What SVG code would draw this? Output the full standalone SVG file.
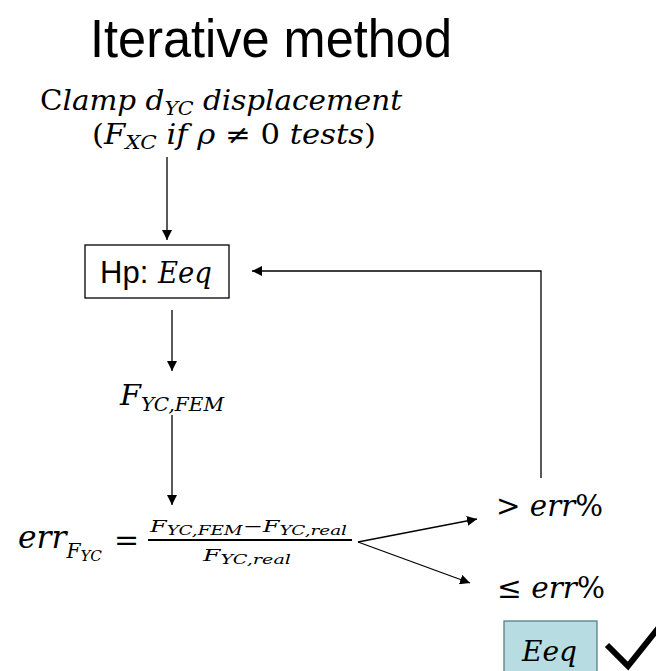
<svg xmlns="http://www.w3.org/2000/svg" width="656" height="671" viewBox="0 0 656 671">
<defs>
<marker id="ah" viewBox="0 0 10 10" refX="10" refY="5" markerWidth="10" markerHeight="10" markerUnits="userSpaceOnUse" orient="auto">
<path d="M0,0 L10,5 L0,10 z" fill="#000"/>
</marker>
</defs>
<style>
.title{font-family:"Liberation Sans",Arial,sans-serif;font-size:54px;fill:#000}
.sans{font-family:"Liberation Sans",Arial,sans-serif;fill:#000}
.m{font-family:"DejaVu Serif","Liberation Serif",serif;font-style:italic;fill:#000}
.up{font-style:normal}
.ln{stroke:#000;stroke-width:1.3;fill:none}
.arr{marker-end:url(#ah)}
</style>
<rect width="656" height="671" fill="#fff"/>
<g id="title"><text class="title" x="90" y="57" textLength="362" lengthAdjust="spacingAndGlyphs">Iterative method</text></g>
<g id="clamp">
<text class="m" x="40" y="110" font-size="27" textLength="362" lengthAdjust="spacingAndGlyphs"><tspan class="up">C</tspan>lamp d<tspan font-size="19" dy="5">YC</tspan><tspan dy="-5"> displacement</tspan></text>
<text class="m" x="92" y="144" font-size="27" textLength="284" lengthAdjust="spacingAndGlyphs"><tspan class="up">(</tspan>F<tspan font-size="19" dy="5">XC</tspan><tspan dy="-5">  if ρ </tspan><tspan class="up">≠ 0 </tspan>tests<tspan class="up">)</tspan></text>
</g>
<g id="hp">
<rect x="85" y="245" width="144" height="53" fill="#fff" stroke="#000" stroke-width="1.3"/>
<text class="sans" x="100" y="283" font-size="31">Hp:</text>
<text class="m" x="158" y="283" font-size="29" textLength="54" lengthAdjust="spacingAndGlyphs">Eeq</text>
</g>
<g id="ffem">
<text class="m" x="120" y="405" font-size="27" textLength="104" lengthAdjust="spacingAndGlyphs">F<tspan font-size="18" dy="6">YC,FEM</tspan></text>
</g>
<g id="err">
<text class="m" x="18" y="548" font-size="31" textLength="84" lengthAdjust="spacingAndGlyphs">err<tspan font-size="20" dy="10">F</tspan><tspan font-size="15" dy="3">YC</tspan></text>
<text class="m up" x="114" y="550" font-size="30">=</text>
<text class="m" x="150" y="532" font-size="17" textLength="197" lengthAdjust="spacingAndGlyphs">F<tspan font-size="13" dy="3">YC,FEM</tspan><tspan class="up" dy="-3">−</tspan>F<tspan font-size="13" dy="3">YC,real</tspan></text>
<line x1="148" y1="540" x2="352" y2="540" stroke="#000" stroke-width="2"/>
<text class="m" x="203" y="561" font-size="17" textLength="88" lengthAdjust="spacingAndGlyphs">F<tspan font-size="13" dy="3">YC,real</tspan></text>
</g>
<g id="gt">
<text class="m" x="496" y="516" font-size="30" textLength="107" lengthAdjust="spacingAndGlyphs"><tspan class="up">&gt; </tspan>err<tspan class="up">%</tspan></text>
</g>
<g id="le">
<text class="m" x="497" y="598" font-size="30" textLength="108" lengthAdjust="spacingAndGlyphs"><tspan class="up">≤ </tspan>err<tspan class="up">%</tspan></text>
</g>
<g id="eeq">
<rect x="504" y="621" width="93" height="60" fill="#b7dde2" stroke="#4f8289" stroke-width="1.3"/>
<text class="m" x="522" y="661" font-size="28" textLength="55" lengthAdjust="spacingAndGlyphs">Eeq</text>
</g>
<g id="check">
<polyline points="607,645 628,666 660,626" fill="none" stroke="#000" stroke-width="6" stroke-linejoin="miter"/>
</g>
<g id="connectors">
<line class="ln arr" x1="167" y1="157" x2="167" y2="240"/>
<line class="ln arr" x1="172" y1="310" x2="172" y2="371"/>
<line class="ln arr" x1="172" y1="415" x2="172" y2="505"/>
<polyline class="ln arr" points="541,478 541,271 252,271"/>
<line class="ln arr" x1="358" y1="542" x2="477" y2="519"/>
<line class="ln arr" x1="358" y1="542" x2="470" y2="583"/>
</g>
</svg>
